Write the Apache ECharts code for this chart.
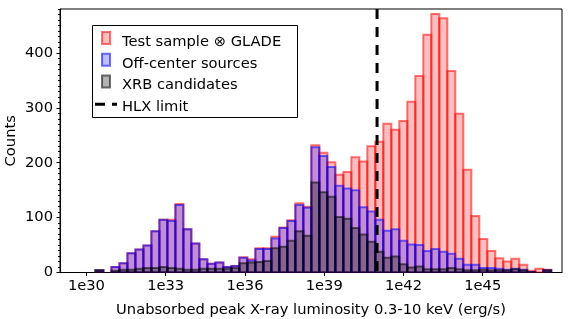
<!DOCTYPE html>
<html><head><meta charset="utf-8">
<script src="https://cdn.jsdelivr.net/npm/echarts@6/dist/echarts.min.js"></script>
<style>html,body{margin:0;padding:0;background:#fff}#c{width:584px;height:319px}</style>
</head><body><div id="c"></div>
<script>
// histogram bins in log10(L): first edge and common width
const binStartLog = 30.3405;
const binWidthLog = 0.30269;
const testSample = [4,0,10,17,35,42,49,75,96,96,125,79,53,24,16,18,10,12,28,24,
  44,44,65,82,95,126,120,232,218,201,178,183,210,202,230,238,271,260,276,311,
  358,433,471,463,367,289,187,103,61,39,26,20,25,14,3,7,5];
const offCenter = [4,0,10,17,35,42,49,75,96,94,123,79,53,24,16,18,10,12,27,22,
  43,43,62,81,94,123,118,228,212,192,158,153,150,119,111,96,76,79,58,51,
  50,39,43,38,34,25,14,14,8,8,7,5,7,5,1,0,4];
const xrbCandidates = [4,0,3,5,5,7,8,8,10,8,7,5,5,7,7,7,7,8,17,18,
  19,21,44,47,58,75,67,164,146,138,101,98,81,69,56,38,27,29,15,9,
  11,6,6,6,8,6,4,4,5,4,4,4,6,4,1,0,4];
const xTickValues = [30,33,36,39,42,45];
const yTickValues = [0,100,200,300,400];
const hlxLimitLog = 41;
const legendLabels = ['Test sample \u2297 GLADE','Off-center sources','XRB candidates','HLX limit'];

const FONT = 'DejaVu Sans';
const FS = 14.7;

function toBins(values){
  return values.map((v,i)=>[binStartLog+i*binWidthLog, binStartLog+(i+1)*binWidthLog, v]);
}
function barRenderer(fill, stroke){
  return function(params, api){
    const v = api.value(2);
    if (v <= 0) return null;
    const p0 = api.coord([api.value(0), v]);
    const p1 = api.coord([api.value(1), 0]);
    return {type:'rect', shape:{x:p0[0], y:p0[1], width:p1[0]-p0[0], height:p1[1]-p0[1]},
      style:{fill:fill, stroke:stroke, lineWidth:2}};
  };
}
const styles = [
  {fill:'rgba(255,0,0,0.25)', stroke:'rgba(255,0,0,0.55)'},
  {fill:'rgba(0,0,255,0.25)', stroke:'rgba(0,0,255,0.55)'},
  {fill:'rgba(0,0,0,0.3)', stroke:'rgba(0,0,0,0.55)'}
];
const chart = echarts.init(document.getElementById('c'));
const mkBar = (name, vals, s) => ({
  type:'custom', name:name, renderItem:barRenderer(s.fill, s.stroke),
  data:toBins(vals), encode:{x:[0,1], y:2}, clip:true, silent:true
});

const legendRows = [42, 63.7, 85.5, 107.3];
const graphics = [
  {type:'rect', shape:{x:92.5, y:25.5, width:205, height:92}, style:{fill:'#fff', stroke:'#000', lineWidth:1}, z:100}
];
for (let k=0;k<3;k++){
  graphics.push({type:'rect', shape:{x:102, y:legendRows[k]-10, width:8, height:12},
    style:{fill:styles[k].fill, stroke:styles[k].stroke, lineWidth:2}, z:101});
}
graphics.push({type:'line', shape:{x1:95, y1:legendRows[3]-3, x2:117, y2:legendRows[3]-3},
  style:{stroke:'#000', lineWidth:3, lineDash:[10,7]}, z:101});
for (let k=0;k<4;k++){
  graphics.push({type:'text', x:122, y:legendRows[k], style:{text:legendLabels[k], font:FS+'px "'+FONT+'"', fill:'#000', verticalAlign:'middle', align:'left'}, z:101});
}

chart.setOption({
  animation:false,
  grid:{left:60, right:22, top:9, bottom:46.5, show:true, borderColor:'#000', borderWidth:1,
    outerBoundsMode:'none', containLabel:false},
  xAxis:{type:'value', min:29, max:48,
    name:'Unabsorbed peak X-ray luminosity 0.3-10 keV (erg/s)', nameLocation:'middle', nameGap:30,
    nameMoveOverlap:false,
    nameTextStyle:{fontFamily:FONT, fontSize:FS, color:'#000'},
    axisLine:{lineStyle:{color:'#000', width:1}},
    axisTick:{customValues:xTickValues, length:3.5, lineStyle:{color:'#000'}},
    axisLabel:{customValues:xTickValues, formatter:v=>'1e'+v, margin:6, fontFamily:FONT, fontSize:FS, color:'#000'},
    splitLine:{show:false}},
  yAxis:[{type:'value', min:0, max:480, interval:100,
    name:'Counts', nameLocation:'middle', nameGap:41, nameMoveOverlap:false,
    nameTextStyle:{fontFamily:FONT, fontSize:FS, color:'#000'},
    axisLine:{show:true, lineStyle:{color:'#000', width:1}},
    axisTick:{show:true, customValues:yTickValues, length:3.5, lineStyle:{color:'#000'}},
    axisLabel:{customValues:yTickValues, margin:7, fontFamily:FONT, fontSize:FS, color:'#000'},
    splitLine:{show:false}},
   {type:'value', min:0, max:480, interval:10, position:'left',
    axisLine:{show:false}, axisLabel:{show:false}, splitLine:{show:false},
    axisTick:{show:true, length:2, lineStyle:{color:'#000'}}}],
  series:[
    mkBar(legendLabels[0], testSample, styles[0]),
    mkBar(legendLabels[1], offCenter, styles[1]),
    mkBar(legendLabels[2], xrbCandidates, styles[2]),
    {type:'custom', name:legendLabels[3], data:[[hlxLimitLog]], encode:{x:0}, silent:true, z:5,
      renderItem:function(params, api){
        const top = api.coord([api.value(0), 480]);
        const bot = api.coord([api.value(0), 0]);
        return {type:'line', shape:{x1:top[0], y1:top[1], x2:bot[0], y2:bot[1]},
          style:{stroke:'#000', lineWidth:3, lineDash:[10,8]}};
      }}
  ],
  graphic:graphics
});
</script>
</body></html>
